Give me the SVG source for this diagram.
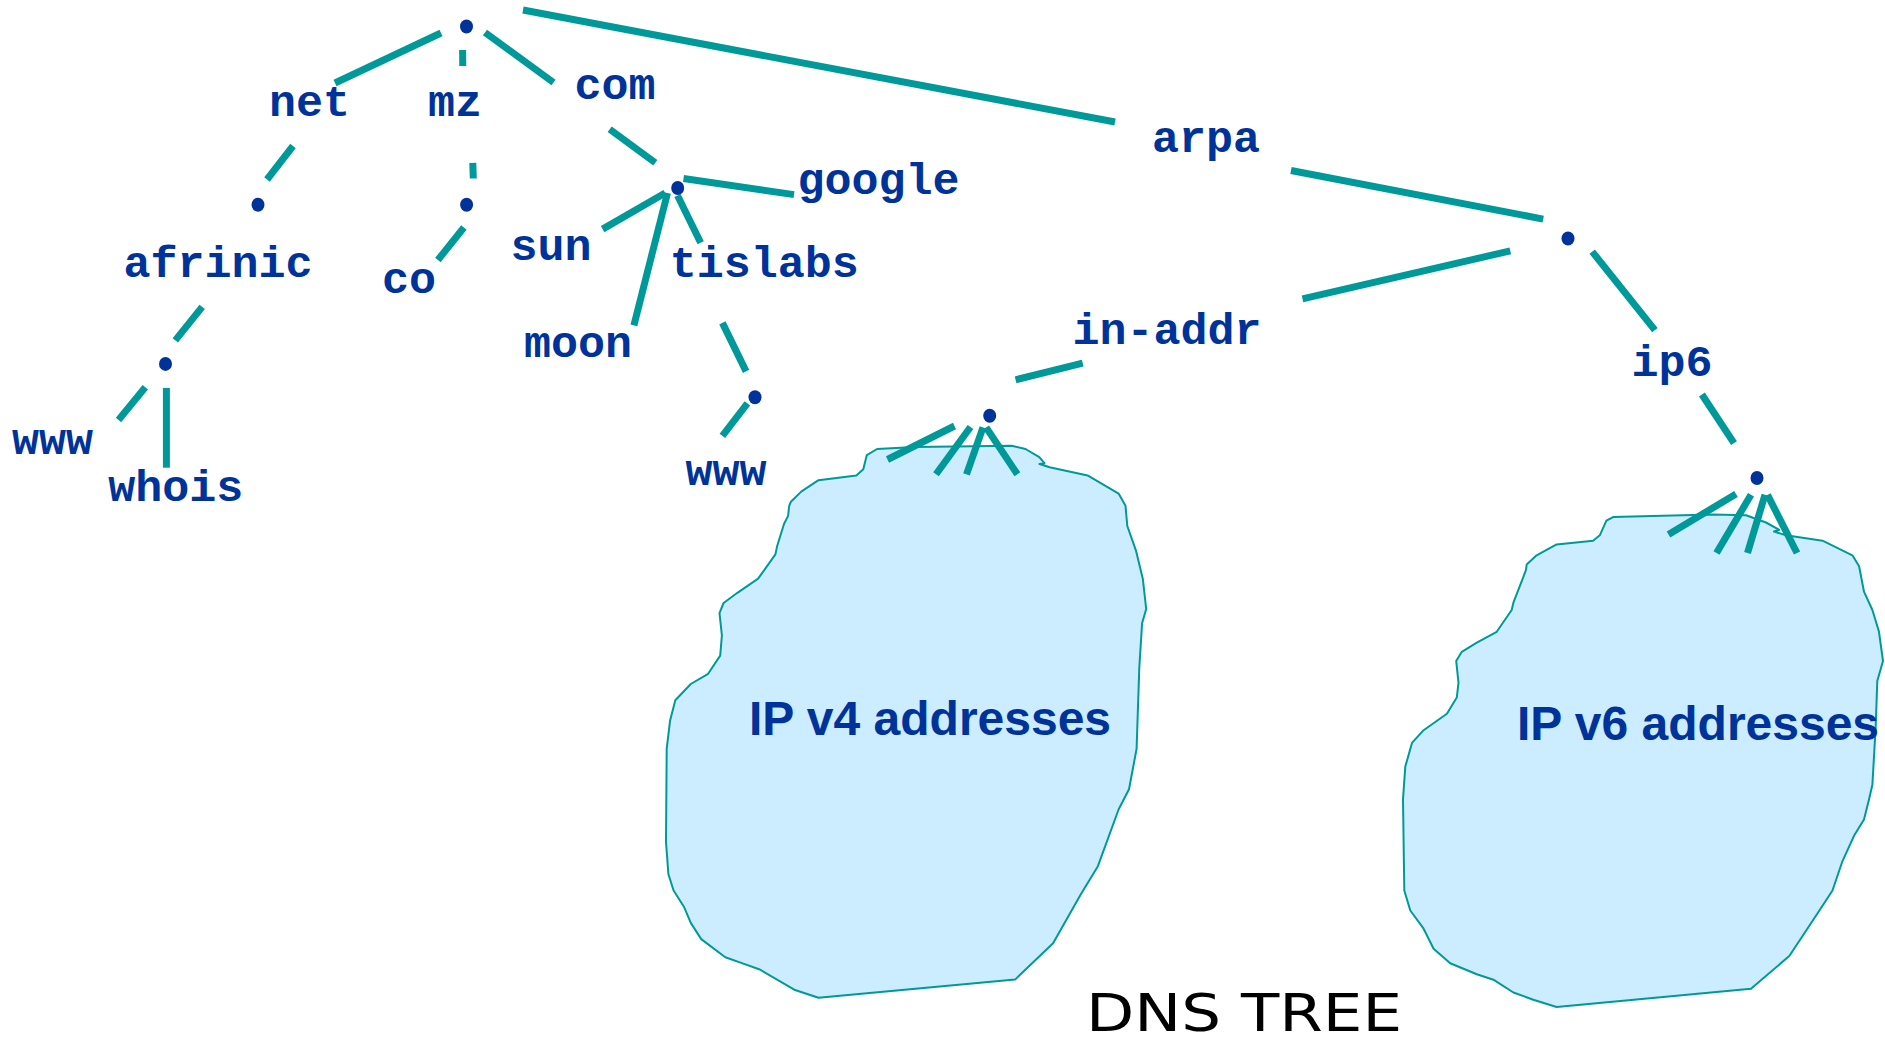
<svg xmlns="http://www.w3.org/2000/svg" width="1885" height="1043" viewBox="0 0 1885 1043">
  <style>
    .edge { stroke: #009999; stroke-width: 7; stroke-linecap: butt; fill: none; }
    .dot { fill: #003399; }
    .lbl { font-family: "Liberation Mono", "Courier New", monospace; font-weight: bold; font-size: 45px; fill: #003399; }
    .cloud { fill: #CCECFF; stroke: #009999; stroke-width: 2; stroke-linejoin: round; }
    .cloudtxt { font-family: "Liberation Sans", Arial, sans-serif; font-weight: bold; font-size: 48px; fill: #003399; }
    .title { font-family: "DejaVu Sans", Verdana, sans-serif; font-size: 51px; fill: #000000; }
  </style>
  <rect width="1885" height="1043" fill="#ffffff"/>

  <!-- address space clouds -->
  <g id="ipv4-cloud">
    <path class="cloud" d="M790.9,501.7 L801.2,491.6 L818.5,480.2 L856.4,475.4 L863.3,469.3 L866.8,455.1 L877.1,449 L915.1,447 L1011.7,445.8 L1025.5,449 L1039.3,457.2 L1044.5,463.2 L1039.5,464 L1049.6,467.3 L1087.6,475.4 L1118.6,493.6 L1125.5,505.8 L1127.3,526 L1135.9,550.3 L1142.8,578.7 L1146.2,609 L1142.1,623.2 L1139.3,667.8 L1136.6,748.8 L1129,789.3 L1118.6,809.5 L1097.9,866.2 L1080.7,894.6 L1053.1,943.2 L1015.1,979.6 L818.5,997.8 L794.3,989.7 L759.8,969.5 L742.6,963.4 L725.3,957.3 L701.2,939.1 L690.8,922.9 L683.9,906.7 L673.6,890.5 L668.4,874.3 L666,841.9 L666.7,748.8 L670.1,720.4 L675.3,700.2 L690.8,684 L708.1,673.8 L720.2,655.6 L721.9,635.4 L719.5,613.1 L723.6,603 L737.4,592.8 L758.1,578.7 L775.4,554.4 L777.1,546.3 L784,524 L788.1,515.9 L789.2,505.8 Z"/>
    <text class="cloudtxt" x="749" y="735">IP v4 addresses</text>
  </g>
  <g id="ipv6-cloud">
    <path class="cloud" d="M1526.7,564.4 L1536.6,555.3 L1556.6,544.4 L1593.1,540.7 L1599.8,535.3 L1606.4,520.7 L1613.1,517.1 L1712.8,514.5 L1746,515.2 L1766,522.5 L1779.3,529.8 L1774,531.5 L1785.9,535.3 L1822.5,540.7 L1852.4,555.3 L1859.1,566.2 L1864,591.7 L1872.4,610 L1879,631.8 L1883,661 L1877.3,681 L1875.7,726.5 L1872.4,784.8 L1869,799.4 L1864,819.4 L1854,835.8 L1842.4,861.3 L1832.5,890.5 L1815.8,916 L1789.3,956 L1751,988.8 L1556.6,1007 L1533.3,999.7 L1513.4,992.5 L1493.4,979.7 L1476.8,974.2 L1450.2,963.3 L1433.6,948.7 L1423.6,928.7 L1410.3,910.5 L1404.3,890.5 L1403,799.4 L1405.3,766.6 L1412,742.9 L1423.6,730.2 L1446.9,713.8 L1456.8,697.4 L1458.5,682.8 L1456.2,660.9 L1461.8,651.8 L1476.8,642.7 L1496.7,631.8 L1511.7,610 L1513.4,602.7 L1523.3,577.2 L1526,569.9 Z"/>
    <text class="cloudtxt" x="1517" y="740">IP v6 addresses</text>
  </g>

  <!-- tree edges -->
  <g id="connectors" class="edge">
    <line x1="441" y1="33" x2="335" y2="83"/>
    <line x1="462.6" y1="50" x2="462.8" y2="66"/>
    <line x1="485" y1="32.5" x2="553.5" y2="82.5"/>
    <line x1="523" y1="10" x2="1115" y2="122"/>
    <line x1="293" y1="146" x2="267" y2="179.5"/>
    <line x1="472.8" y1="162.8" x2="473.3" y2="178.5"/>
    <line x1="463.9" y1="227.5" x2="437.9" y2="260"/>
    <line x1="609.7" y1="129.3" x2="655.3" y2="162.8"/>
    <line x1="683.5" y1="178.5" x2="794" y2="194.6"/>
    <line x1="665.2" y1="193" x2="602.6" y2="229.1"/>
    <line x1="667.5" y1="193" x2="633.9" y2="325.3"/>
    <line x1="677.5" y1="195.5" x2="700.7" y2="242.8"/>
    <line x1="202.2" y1="306.9" x2="175.3" y2="340.4"/>
    <line x1="145.3" y1="387.3" x2="118.5" y2="420"/>
    <line x1="166.4" y1="387.9" x2="166.4" y2="467.7"/>
    <line x1="722.4" y1="322.9" x2="746.1" y2="371.4"/>
    <line x1="747.4" y1="403.3" x2="722.4" y2="435.8"/>
    <line x1="1291" y1="170.5" x2="1543.2" y2="219.1"/>
    <line x1="1510.3" y1="250.9" x2="1302.5" y2="298.9"/>
    <line x1="1592.2" y1="251.6" x2="1654.9" y2="330.1"/>
    <line x1="1082.7" y1="363.1" x2="1015.6" y2="379.8"/>
    <line x1="1701.9" y1="394.5" x2="1734" y2="443.1"/>
    <line x1="954.5" y1="426" x2="887.5" y2="459.5"/>
    <line x1="970.5" y1="427" x2="936" y2="474.3"/>
    <line x1="983" y1="427.4" x2="966.5" y2="474.3"/>
    <line x1="986.1" y1="427.4" x2="1017.4" y2="474.3"/>
    <line x1="1736" y1="494" x2="1668.5" y2="534.5"/>
    <line x1="1751" y1="494.8" x2="1716.5" y2="553"/>
    <line x1="1765" y1="494.8" x2="1747.5" y2="553"/>
    <line x1="1767.5" y1="494.8" x2="1797" y2="553"/>
  </g>

  <!-- interior nodes -->
  <g id="n-root"><ellipse class="dot" cx="466.5" cy="26.5" rx="6.5" ry="7"/></g>
  <g id="n-net"><ellipse class="dot" cx="258" cy="204.7" rx="6.5" ry="7"/></g>
  <g id="n-mz"><ellipse class="dot" cx="466.6" cy="204.7" rx="6.5" ry="7"/></g>
  <g id="n-com"><ellipse class="dot" cx="677.7" cy="188" rx="6.5" ry="7"/></g>
  <g id="n-afrinic"><ellipse class="dot" cx="165.5" cy="363.9" rx="6.5" ry="7"/></g>
  <g id="n-tislabs"><ellipse class="dot" cx="755" cy="397.3" rx="6.5" ry="7"/></g>
  <g id="n-arpa"><ellipse class="dot" cx="1568" cy="238.5" rx="6.5" ry="7"/></g>
  <g id="n-in-addr"><ellipse class="dot" cx="989.7" cy="415.7" rx="6.5" ry="7"/></g>
  <g id="n-ip6"><ellipse class="dot" cx="1757" cy="478" rx="6.5" ry="7"/></g>

  <!-- domain labels -->
  <g id="l-net"><text class="lbl" x="269" y="116">net</text></g>
  <g id="l-mz"><text class="lbl" x="428" y="116">mz</text></g>
  <g id="l-com"><text class="lbl" x="574.5" y="99">com</text></g>
  <g id="l-arpa"><text class="lbl" x="1152" y="152">arpa</text></g>
  <g id="l-afrinic"><text class="lbl" x="123.5" y="277">afrinic</text></g>
  <g id="l-co"><text class="lbl" x="382" y="293">co</text></g>
  <g id="l-sun"><text class="lbl" x="510.5" y="260">sun</text></g>
  <g id="l-google"><text class="lbl" x="797.5" y="194">google</text></g>
  <g id="l-tislabs"><text class="lbl" x="669.7" y="276.5">tislabs</text></g>
  <g id="l-moon"><text class="lbl" x="524" y="357">moon</text></g>
  <g id="l-www-afrinic"><text class="lbl" x="12" y="453.5">www</text></g>
  <g id="l-whois"><text class="lbl" x="108.2" y="501.3">whois</text></g>
  <g id="l-www-tislabs"><text class="lbl" x="685.5" y="484.5">www</text></g>
  <g id="l-in-addr"><text class="lbl" x="1072.4" y="343.7">in-addr</text></g>
  <g id="l-ip6"><text class="lbl" x="1631.5" y="376">ip6</text></g>

  <g id="caption"><text class="title" x="1086" y="1031" textLength="316" lengthAdjust="spacingAndGlyphs">DNS TREE</text></g>
</svg>
